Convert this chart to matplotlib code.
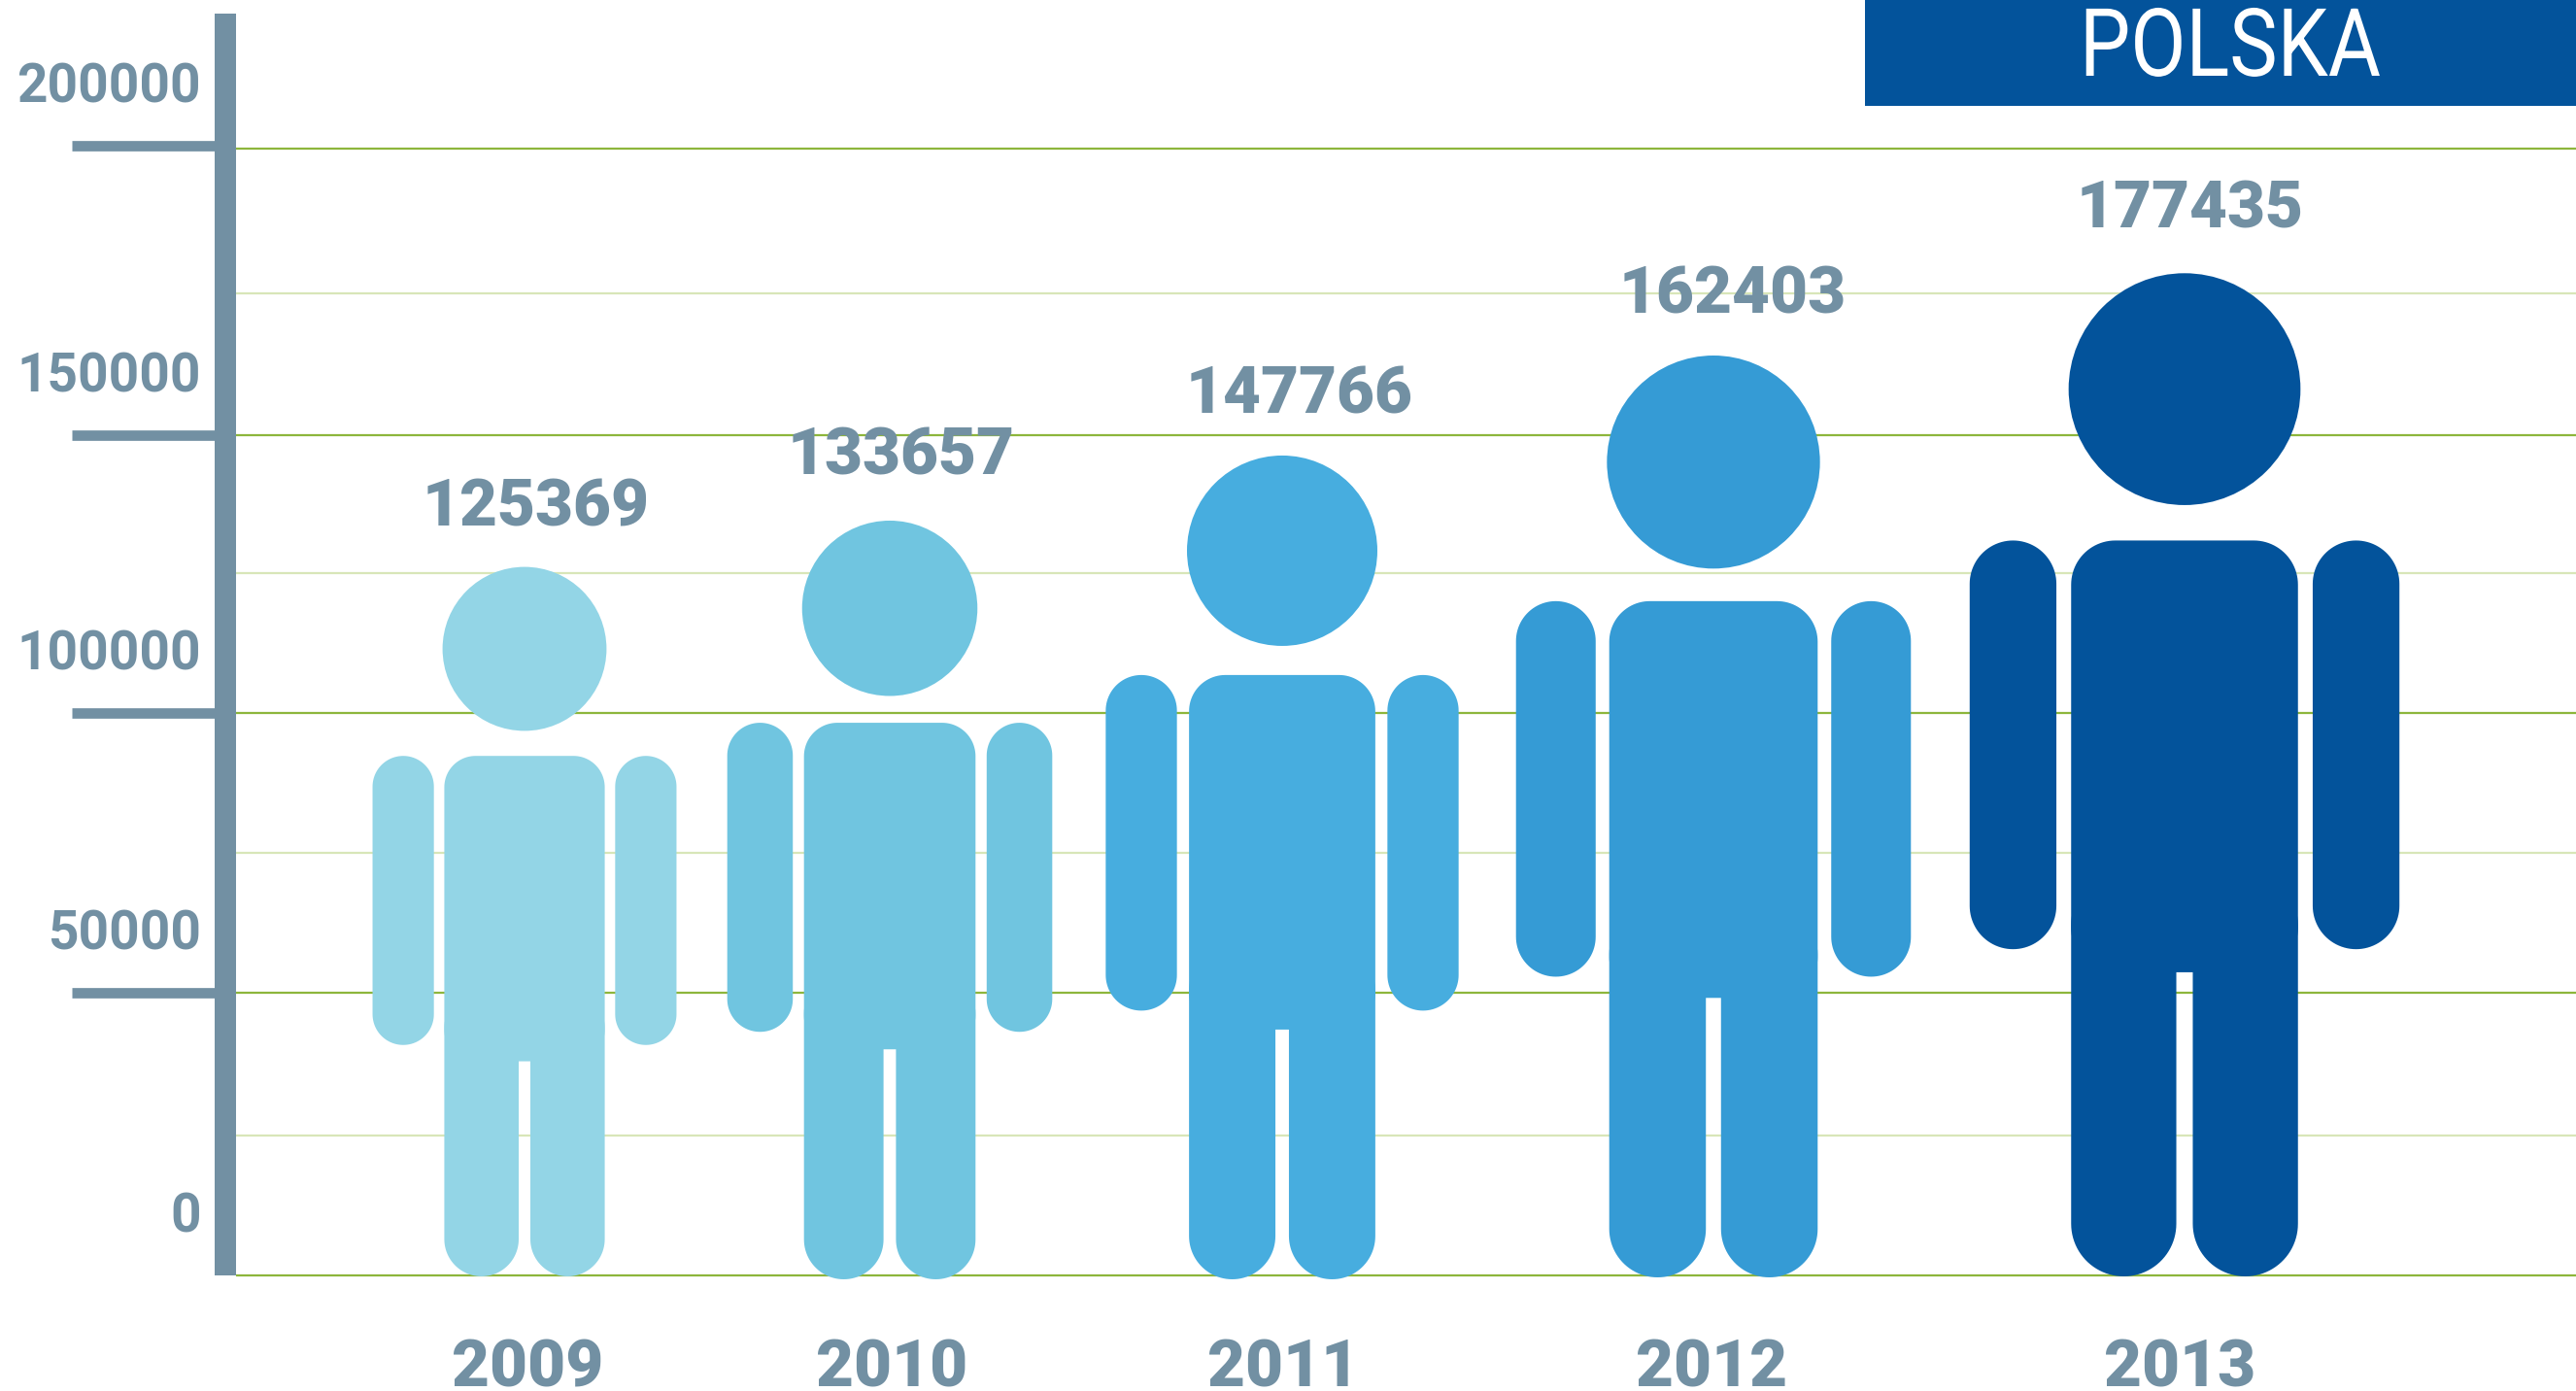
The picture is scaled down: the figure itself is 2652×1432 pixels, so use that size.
import numpy as np
import matplotlib
matplotlib.use('Agg')
import matplotlib.pyplot as plt
from matplotlib.patches import Ellipse, Rectangle
from matplotlib.patheffects import AbstractPathEffect
from matplotlib.transforms import Affine2D

# Datos
years = ['2009', '2010', '2011', '2012', '2013']
values = [125369, 133657, 147766, 162403, 177435]
y_ticks = [0, 50000, 100000, 150000, 200000]
y_minor = [25000, 75000, 125000, 175000]
title = 'POLSKA'

# Posiciones y colores
person_x = [540, 916, 1320, 1764, 2249]
person_scale = [1.005, 1.008, 0.99, 1.008, 1.004]
person_drop = [1, 4, 4, 2, 1]
year_x = [543, 918, 1321, 1762, 2244]
label_dx = [12, 12, 18, 20, 6]
label_dy = [66, 71, 67, 67, 70]
# desplazamientos en pixeles hacia abajo
grid_nudge = [0, -1, 1, 5, 0]
minor_nudge = [1, 0, 2, 4]
mark_nudge = [0, -1, 1, 5, -3]
colors = ['#93D5E6', '#70C5E0', '#47ADDF', '#359BD5', '#03539B']
axis_color = '#7290A3'
green = '#8DB63C'
green_light = '#D8E6B8'

W, H = 2652, 1432
zero_px = 1313
units_per_px = 200000 / (1313 - 153)  # valor por pixel

fig = plt.figure(figsize=(W / 100, H / 100), dpi=100)
ax = fig.add_axes([0, 0, 1, 1])
ax.set_xlim(0, W)
ax.set_ylim(-(H - zero_px) * units_per_px, zero_px * units_per_px)
ax.axis('off')


class SqueezeX(AbstractPathEffect):
    # estrecha el texto en horizontal (no hay fuente condensada instalada)
    def __init__(self, factor, cx):
        super().__init__()
        self.factor = factor
        self.cx = cx

    def draw_path(self, renderer, gc, tpath, affine, rgbFace=None):
        extra = Affine2D().translate(-self.cx, 0).scale(self.factor, 1).translate(self.cx, 0)
        renderer.draw_path(gc, tpath, affine + extra, rgbFace)


def rounded(x0, x1, y0, y1, r, color):
    # caja con esquinas circulares: x en pixeles, y en valores, r en pixeles
    ry = r * units_per_px
    xs, ys = [], []
    corners = [(x1 - r, y1 - ry, 0), (x0 + r, y1 - ry, 90),
               (x0 + r, y0 + ry, 180), (x1 - r, y0 + ry, 270)]
    for cx, cy, start in corners:
        t = np.radians(np.linspace(start, start + 90, 24))
        xs.extend(cx + r * np.cos(t))
        ys.extend(cy + ry * np.sin(t))
    ax.fill(xs, ys, fc=color, ec='none', zorder=3)


def person(cx, value, scale, drop, color):
    # las medidas son proporcionales a la altura de la figura
    h = value * scale
    s = h / units_per_px
    base = -drop * units_per_px
    ax.add_patch(Ellipse((cx, base + h * (1 - 0.116)), 0.231 * s, 0.231 * h,
                         fc=color, ec='none', zorder=3))
    torso_top = base + h * (1 - 0.2668)
    leg_top = base + h * (1 - 0.697)
    half = 0.113 * s
    gap = 0.0082 * s
    # torso
    rounded(cx - half, cx + half, leg_top, torso_top, 0.044 * s, color)
    # piernas
    leg_w = half - gap
    rounded(cx - half, cx - gap, base, leg_top + 0.1 * h, leg_w / 2, color)
    rounded(cx + gap, cx + half, base, leg_top + 0.1 * h, leg_w / 2, color)
    # brazos
    arm_bottom = base + h * (1 - 0.674)
    arm_w = 0.0864 * s
    inner = half + 0.0147 * s
    rounded(cx - inner - arm_w, cx - inner, arm_bottom, torso_top, arm_w / 2, color)
    rounded(cx + inner, cx + inner + arm_w, arm_bottom, torso_top, arm_w / 2, color)


# Lineas de la cuadricula
minor_y = [v - n * units_per_px for v, n in zip(y_minor, minor_nudge)]
grid_y = [v - n * units_per_px for v, n in zip(y_ticks, grid_nudge)]
mark_y = [v - n * units_per_px for v, n in zip(y_ticks, mark_nudge)]
ax.hlines(minor_y, 243, W, color=green_light, lw=1.6, zorder=1)
ax.hlines(grid_y, 243, W, color=green, lw=1.6, zorder=1)

# Eje vertical y marcas
ax.add_patch(Rectangle((221, 0), 22, (zero_px - 14) * units_per_px,
                       fc=axis_color, ec='none', zorder=2))
ax.hlines(mark_y[1:], 74, 221, color=axis_color, lw=7.7, zorder=2)

for t, y in zip(y_ticks, mark_y):
    ax.annotate(str(t), xy=(207, y), xytext=(0, 42.5), textcoords='offset points',
                ha='right', va='center', fontsize=39.5, family='Roboto',
                fontweight='bold', color=axis_color)

# Figuras
for x, v, sc, d, c in zip(person_x, values, person_scale, person_drop, colors):
    person(x, v, sc, d, c)

# Etiquetas de valores y anos
for x, dx, dy, v, sc, d in zip(person_x, label_dx, label_dy, values, person_scale, person_drop):
    top = v * sc - d * units_per_px
    ax.annotate(str(v), xy=(x + dx, top), xytext=(0, (dy - 6) * 0.72), textcoords='offset points',
                ha='center', va='center', fontsize=48.5, family='Roboto',
                fontweight='heavy', color=axis_color, zorder=4)
for x, y in zip(year_x, years):
    ax.annotate(y, xy=(x, 0), xytext=(0, -69.6), textcoords='offset points',
                ha='center', va='center', fontsize=48.5, family='Roboto',
                fontweight='heavy', color=axis_color)

# Cabecera
ax.add_patch(Rectangle((1920, (zero_px - 109) * units_per_px), W - 1920,
                       109 * units_per_px, fc='#03539B', ec='none', zorder=2))
title_text = ax.text(2296, (zero_px - 52) * units_per_px, title, ha='center', va='center',
                     fontsize=70, family='Roboto', color='white', zorder=4)
title_text.set_path_effects([SqueezeX(0.855, 2296)])

fig.savefig('out.png', dpi=100, facecolor='white')
